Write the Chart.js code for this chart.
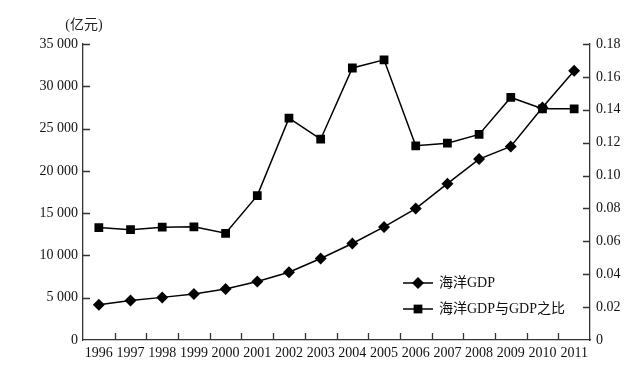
<!DOCTYPE html>
<html><head><meta charset="utf-8">
<script src="https://cdn.jsdelivr.net/npm/chart.js@4/dist/chart.umd.min.js"></script>
<style>html,body{margin:0;padding:0;background:#fff;}#wrap{width:627px;height:369px;position:relative;}</style>
</head><body><div id="wrap"><canvas id="c" width="627" height="369"></canvas></div>
<script>
const years = ['1996','1997','1998','1999','2000','2001','2002','2003','2004','2005','2006','2007','2008','2009','2010','2011'];
const oceanGDP = [4160, 4680, 5040, 5430, 6020, 6920, 8020, 9640, 11410, 13370, 15540, 18490, 21390, 22890, 27490, 31850];
const oceanRatio = [0.0684, 0.0671, 0.0686, 0.0688, 0.0649, 0.0878, 0.1349, 0.1221, 0.1654, 0.1704, 0.1181, 0.1197, 0.1250, 0.1475, 0.1406, 0.1406];
const leftTicks = [0, 5000, 10000, 15000, 20000, 25000, 30000, 35000];
const leftTickLabels = ['0', '5 000', '10 000', '15 000', '20 000', '25 000', '30 000', '35 000'];
const rightTicks = [0, 0.02, 0.04, 0.06, 0.08, 0.10, 0.12, 0.14, 0.16, 0.18];
const rightTickLabels = ['0', '0.02', '0.04', '0.06', '0.08', '0.10', '0.12', '0.14', '0.16', '0.18'];
const unitLabel = '(亿元)';
const seriesNames = ['海洋GDP', '海洋GDP与GDP之比'];

const FONT = '"Liberation Serif", "Times New Roman", "Noto Sans CJK SC", serif';
const AXIS = '#333';
const INK = '#000';

const decor = {
  id: 'decor',
  afterDraw(chart) {
    const ctx = chart.ctx;
    const {left, right, top, bottom} = chart.chartArea;
    const yl = chart.scales.y, yr = chart.scales.y1, xs = chart.scales.x;
    ctx.save();
    ctx.strokeStyle = AXIS;
    ctx.lineWidth = 1.3;
    ctx.beginPath();
    yl.ticks.forEach(t => { if (t.value === 0) return; const p = Math.round(yl.getPixelForValue(t.value)) + 0.5; ctx.moveTo(left, p); ctx.lineTo(left + 7, p); });
    yr.ticks.forEach(t => { if (t.value === 0) return; const p = Math.round(yr.getPixelForValue(t.value)) + 0.5; ctx.moveTo(right - 7, p); ctx.lineTo(right, p); });
    for (let i = 1; i < years.length; i++) {
      const p = Math.round((xs.getPixelForValue(i - 1) + xs.getPixelForValue(i)) / 2) + 0.5;
      ctx.moveTo(p, bottom); ctx.lineTo(p, bottom - 7);
    }
    ctx.stroke();
    // unit label
    ctx.fillStyle = '#222';
    ctx.font = '14px ' + FONT;
    ctx.textAlign = 'center';
    ctx.textBaseline = 'middle';
    ctx.fillText(unitLabel, left + 1, 25);
    // legend
    const rows = [283, 309];
    chart.data.datasets.forEach((ds, i) => {
      const y = rows[i];
      ctx.strokeStyle = INK; ctx.lineWidth = 1.5;
      ctx.beginPath(); ctx.moveTo(403, y); ctx.lineTo(433, y); ctx.stroke();
      ctx.fillStyle = INK;
      Chart.helpers.drawPoint(ctx, {pointStyle: ds.pointStyle, radius: ds.pointRadius, rotation: 0, borderWidth: 0}, 418, y);
      ctx.fillStyle = '#111';
      ctx.textAlign = 'left';
      ctx.fillText(ds.label, 439, y);
    });
    ctx.restore();
  }
};

new Chart(document.getElementById('c'), {
  type: 'line',
  data: {
    labels: years,
    datasets: [
      { label: seriesNames[0], data: oceanGDP, yAxisID: 'y', borderColor: INK, backgroundColor: INK, borderWidth: 1.5,
        pointStyle: 'rectRot', pointRadius: 6, pointBackgroundColor: INK, pointBorderWidth: 0, tension: 0 },
      { label: seriesNames[1], data: oceanRatio, yAxisID: 'y1', borderColor: INK, backgroundColor: INK, borderWidth: 1.5,
        pointStyle: 'rect', pointRadius: 6.2, pointBackgroundColor: INK, pointBorderWidth: 0, tension: 0 }
    ]
  },
  options: {
    responsive: false,
    devicePixelRatio: 1,
    animation: false,
    layout: { padding: { top: 44, left: 0, right: 0, bottom: 0 } },
    plugins: { legend: { display: false }, tooltip: { enabled: false }, title: { display: false } },
    scales: {
      x: {
        offset: true,
        grid: { display: false, drawTicks: false, offset: true },
        border: { display: true, color: AXIS, width: 1.3 },
        ticks: { color: '#111', font: { family: FONT, size: 14 }, padding: 5, autoSkip: false, maxRotation: 0, minRotation: 0 },
        afterFit(s) { s.height = 29; }
      },
      y: {
        position: 'left', min: 0, max: 35000,
        afterBuildTicks(s) { s.ticks = leftTicks.map(v => ({ value: v })); },
        grid: { display: false, drawTicks: false },
        border: { display: true, color: AXIS, width: 1.3 },
        ticks: { color: '#111', font: { family: FONT, size: 14 }, padding: 5, callback: (v, i) => leftTickLabels[i] },
        afterFit(s) { s.width = 83; }
      },
      y1: {
        position: 'right', min: 0, max: 0.18,
        afterBuildTicks(s) { s.ticks = rightTicks.map(v => ({ value: v })); },
        grid: { display: false, drawTicks: false },
        border: { display: true, color: AXIS, width: 1.3 },
        ticks: { color: '#111', font: { family: FONT, size: 14 }, padding: 6, callback: (v, i) => rightTickLabels[i] },
        afterFit(s) { s.width = 37; }
      }
    }
  },
  plugins: [decor]
});
</script></body></html>
